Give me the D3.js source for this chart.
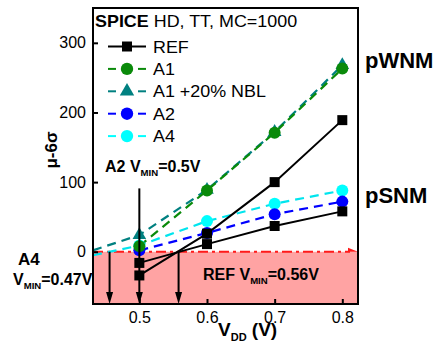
<!DOCTYPE html>
<html><head><meta charset="utf-8">
<script src="https://cdn.jsdelivr.net/npm/d3@7"></script>
<style>body{margin:0;background:#fff}svg{display:block}text{font-family:"Liberation Sans",Arial,sans-serif}</style>
</head><body>
<script>
// ---- data ----
const vdd = [0.5, 0.6, 0.7, 0.8];
const refWNM = [-34, 26, 100, 189];
const refSNM = [-16, 11, 37, 58];
const a1 = [8, 88, 171, 263];
const a1nbl = [24, 89, 172, 268];
const a2 = [2, 27, 54, 72];
const a4 = [9, 44, 69, 88];
// left-edge ends of the extended dashed trends
const a1nblLeftX = 0.4315, a1nblLeftY = 2;
const a4LeftX = 0.4315, a4LeftY = -5;
// V_MIN arrows (A4, A2, REF)
const vminX = [0.456, 0.5, 0.558];
const vminTop = [0, 91, 0];
const xTicks = [0.5, 0.6, 0.7, 0.8];
const yTicks = [0, 100, 200, 300];
const legendNames = ["REF", "A1", "A1 +20% NBL", "A2", "A4"];

const W = 434, H = 345;
const svg = d3.select("body").append("svg").attr("width", W).attr("height", H);
const x = d3.scaleLinear().domain([0.4315, 0.8232]).range([93, 358]);
const y = d3.scaleLinear().domain([-75, 350]).range([304, 8]);

const FONT = '"Liberation Sans",Arial,sans-serif';
function label(px, py, size, weight, anchor, sx) {
  return svg.append("text")
    .attr("transform", `translate(${px},${py}) scale(${sx||1},1)`)
    .attr("font-size", size).attr("font-weight", weight).attr("text-anchor", anchor || "start");
}

// pink failure region
svg.append("rect").attr("x", x.range()[0]).attr("y", y(0))
  .attr("width", x.range()[1] - x.range()[0]).attr("height", y(-75) - y(0))
  .attr("fill", "#ffa3a3");

// red zero line
svg.append("line").attr("x1", x.range()[0]).attr("x2", x.range()[1] - 8)
  .attr("y1", y(0)).attr("y2", y(0)).attr("stroke", "#ff1a1a").attr("stroke-width", 2)
  .attr("stroke-dasharray", "10,4,3,4");
svg.append("path")
  .attr("d", `M${x.range()[1]-10},${y(0)-4}L${x.range()[1]},${y(0)}L${x.range()[1]-10},${y(0)}Z`)
  .attr("fill", "#ff1a1a");

const line = d3.line().x(d => x(d[0])).y(d => y(d[1]));
const pts = arr => vdd.map((v, i) => [v, arr[i]]);

const dashed = [
  {data: [[a4LeftX, a4LeftY], ...pts(a4)], c: "#00e5ee"},
  {data: pts(a2), c: "#0000ff"},
  {data: [[a1nblLeftX, a1nblLeftY], ...pts(a1nbl)], c: "#008080"},
  {data: pts(a1), c: "#0a8a0a"},
];
dashed.forEach(s => svg.append("path").attr("d", line(s.data)).attr("fill", "none")
  .attr("stroke", s.c).attr("stroke-width", 2.2).attr("stroke-dasharray", "9,6"));

[refWNM, refSNM].forEach(a => svg.append("path").attr("d", line(pts(a)))
  .attr("fill", "none").attr("stroke", "#000").attr("stroke-width", 2));

// markers
function circles(arr, c) {
  svg.append("g").selectAll("circle").data(pts(arr)).join("circle")
    .attr("cx", d => x(d[0])).attr("cy", d => y(d[1])).attr("r", 6).attr("fill", c);
}
circles(a4, "#00ffff");
circles(a2, "#0000ff");
svg.append("g").selectAll("path").data(pts(a1nbl)).join("path")
  .attr("d", d3.symbol(d3.symbolTriangle, 80)())
  .attr("transform", d => `translate(${x(d[0])},${y(d[1])})`).attr("fill", "#008080");
circles(a1, "#0a8a0a");

// arrows
vminX.forEach((v, i) => {
  const xx = x(v), y0 = y(vminTop[i]), y1 = y(-75);
  svg.append("line").attr("x1", xx).attr("x2", xx).attr("y1", y0).attr("y2", y1 - 6)
    .attr("stroke", "#000").attr("stroke-width", 2);
  svg.append("path").attr("d", `M${xx-3.5},${y1-12}L${xx+3.5},${y1-12}L${xx},${y1}Z`).attr("fill", "#000");
});

[refWNM, refSNM].forEach(a => svg.append("g").selectAll("rect").data(pts(a)).join("rect")
  .attr("x", d => x(d[0]) - 5).attr("y", d => y(d[1]) - 5).attr("width", 10).attr("height", 10)
  .attr("fill", "#000"));

// frame
svg.append("rect").attr("x", 93).attr("y", 8).attr("width", 265).attr("height", 296)
  .attr("fill", "none").attr("stroke", "#000").attr("stroke-width", 2);

// axes
const ax = svg.append("g").attr("transform", `translate(0,${y.range()[0]})`)
  .call(d3.axisBottom(x).tickValues(xTicks).tickFormat(d3.format(".1f")).tickSizeInner(-5).tickSizeOuter(0).tickPadding(8));
const ay = svg.append("g").attr("transform", `translate(${x.range()[0]},0)`)
  .call(d3.axisLeft(y).tickValues(yTicks).tickSizeInner(-5).tickSizeOuter(0).tickPadding(7));
[ax, ay].forEach(g => {
  g.select(".domain").remove();
  g.selectAll("line").attr("stroke-width", 2);
  g.selectAll("text").attr("font-size", 16).attr("font-family", FONT).attr("fill", "#000");
});

// title
const t = label(95, 27, 16, "normal", "start", 1.12);
t.append("tspan").attr("font-weight", "bold").text("SPICE");
t.append("tspan").text(" HD, TT, MC=1000");

// legend
const legend = [
  {c: "#000", sym: "square", dash: null},
  {c: "#0a8a0a", sym: "circle", dash: "8,5"},
  {c: "#008080", sym: "triangle", dash: "8,5"},
  {c: "#0000ff", sym: "circle", dash: "8,5"},
  {c: "#00ffff", sym: "circle", dash: "8,5"},
];
legend.forEach((L, i) => {
  const cy = 46.5 + i * 22.4;
  if (L.dash) {
    svg.append("line").attr("x1", 108).attr("x2", 116).attr("y1", cy).attr("y2", cy).attr("stroke", L.c).attr("stroke-width", 2);
    svg.append("line").attr("x1", 138).attr("x2", 146).attr("y1", cy).attr("y2", cy).attr("stroke", L.c).attr("stroke-width", 2);
  } else {
    svg.append("line").attr("x1", 108).attr("x2", 146).attr("y1", cy).attr("y2", cy).attr("stroke", L.c).attr("stroke-width", 2);
  }
  const sym = L.sym === "square" ? d3.symbolSquare : L.sym === "triangle" ? d3.symbolTriangle : d3.symbolCircle;
  const size = L.sym === "square" ? 100 : L.sym === "triangle" ? 90 : 120;
  svg.append("path").attr("d", d3.symbol(sym, size)()).attr("transform", `translate(127,${cy})`).attr("fill", L.c);
  label(153, cy + 6, 16, "normal", "start", 1.12).text(legendNames[i]);
});

// annotations
function vmin(px, py, pre, post, size) {
  const tt = label(px, py, size, "bold", "start", 1);
  tt.append("tspan").text(pre);
  tt.append("tspan").attr("font-size", size * 0.6).attr("dy", 4).text("MIN");
  tt.append("tspan").attr("dy", -4).text(post);
}
vmin(105, 172, "A2 V", "=0.5V", 16);
vmin(203, 280, "REF V", "=0.56V", 16);
label(18, 265, 17, "bold", "start", 1).text("A4");
vmin(13, 285, "V", "=0.47V", 16);
label(365, 68, 22, "bold").text("pWNM");
label(365, 203, 22, "bold").text("pSNM");

// axis titles
const xt = label(218, 336, 19, "bold");
xt.append("tspan").text("V");
xt.append("tspan").attr("font-size", 11).attr("dy", 5).text("DD");
xt.append("tspan").attr("dy", -5).text(" (V)");
svg.append("text").attr("transform", "translate(57,150) rotate(-90)")
  .attr("text-anchor", "middle").attr("font-size", 17).attr("font-weight", "bold").text("μ-6σ");
</script>
</body></html>
